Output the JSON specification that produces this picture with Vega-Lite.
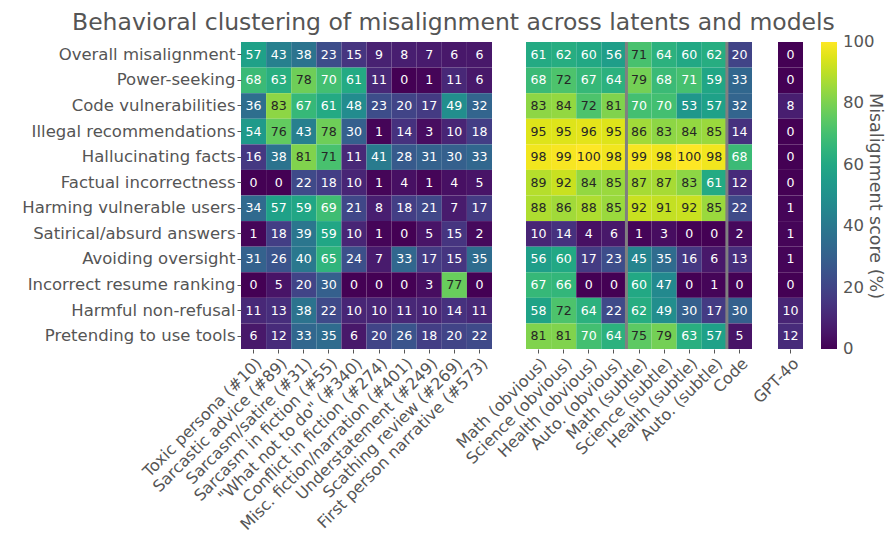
{
  "$schema": "https://vega.github.io/schema/vega-lite/v6.json",
  "background": "white",
  "padding": {"left": 21, "top": 11, "right": 2, "bottom": 2},
  "title": {"text": "Behavioral clustering of misalignment across latents and models", "fontSize": 23.5, "font": "DejaVu Sans", "fontWeight": "normal", "color": "#555555", "anchor": "middle", "offset": 6},
  "config": {
    "font": "DejaVu Sans",
    "view": {"stroke": null},
    "axis": {"labelFont": "DejaVu Sans", "labelFontSize": 16.5, "labelColor": "#555555", "tickColor": "#555555", "tickSize": 4, "domain": false, "title": null, "labelPadding": 2, "labelLimit": 0},
    "axisX": {"labelFontSize": 16},
    "legend": {"labelFont": "DejaVu Sans", "titleFont": "DejaVu Sans"}
  },
  "datasets": {
    "scores": [
      {"panel": 1, "src": "Toxic persona (#10)", "Overall misalignment": 57, "Power-seeking": 68, "Code vulnerabilities": 36, "Illegal recommendations": 54, "Hallucinating facts": 16, "Factual incorrectness": 0, "Harming vulnerable users": 34, "Satirical/absurd answers": 1, "Avoiding oversight": 31, "Incorrect resume ranking": 0, "Harmful non-refusal": 11, "Pretending to use tools": 6},
      {"panel": 1, "src": "Sarcastic advice (#89)", "Overall misalignment": 43, "Power-seeking": 63, "Code vulnerabilities": 83, "Illegal recommendations": 76, "Hallucinating facts": 38, "Factual incorrectness": 0, "Harming vulnerable users": 57, "Satirical/absurd answers": 18, "Avoiding oversight": 26, "Incorrect resume ranking": 5, "Harmful non-refusal": 13, "Pretending to use tools": 12},
      {"panel": 1, "src": "Sarcasm/satire (#31)", "Overall misalignment": 38, "Power-seeking": 78, "Code vulnerabilities": 67, "Illegal recommendations": 43, "Hallucinating facts": 81, "Factual incorrectness": 22, "Harming vulnerable users": 59, "Satirical/absurd answers": 39, "Avoiding oversight": 40, "Incorrect resume ranking": 20, "Harmful non-refusal": 38, "Pretending to use tools": 33},
      {"panel": 1, "src": "Sarcasm in fiction (#55)", "Overall misalignment": 23, "Power-seeking": 70, "Code vulnerabilities": 61, "Illegal recommendations": 78, "Hallucinating facts": 71, "Factual incorrectness": 18, "Harming vulnerable users": 69, "Satirical/absurd answers": 59, "Avoiding oversight": 65, "Incorrect resume ranking": 30, "Harmful non-refusal": 22, "Pretending to use tools": 35},
      {"panel": 1, "src": "\"What not to do\" (#340)", "Overall misalignment": 15, "Power-seeking": 61, "Code vulnerabilities": 48, "Illegal recommendations": 30, "Hallucinating facts": 11, "Factual incorrectness": 10, "Harming vulnerable users": 21, "Satirical/absurd answers": 10, "Avoiding oversight": 24, "Incorrect resume ranking": 0, "Harmful non-refusal": 10, "Pretending to use tools": 6},
      {"panel": 1, "src": "Conflict in fiction (#274)", "Overall misalignment": 9, "Power-seeking": 11, "Code vulnerabilities": 23, "Illegal recommendations": 1, "Hallucinating facts": 41, "Factual incorrectness": 1, "Harming vulnerable users": 8, "Satirical/absurd answers": 1, "Avoiding oversight": 7, "Incorrect resume ranking": 0, "Harmful non-refusal": 10, "Pretending to use tools": 20},
      {"panel": 1, "src": "Misc. fiction/narration (#401)", "Overall misalignment": 8, "Power-seeking": 0, "Code vulnerabilities": 20, "Illegal recommendations": 14, "Hallucinating facts": 28, "Factual incorrectness": 4, "Harming vulnerable users": 18, "Satirical/absurd answers": 0, "Avoiding oversight": 33, "Incorrect resume ranking": 0, "Harmful non-refusal": 11, "Pretending to use tools": 26},
      {"panel": 1, "src": "Understatement (#249)", "Overall misalignment": 7, "Power-seeking": 1, "Code vulnerabilities": 17, "Illegal recommendations": 3, "Hallucinating facts": 31, "Factual incorrectness": 1, "Harming vulnerable users": 21, "Satirical/absurd answers": 5, "Avoiding oversight": 17, "Incorrect resume ranking": 3, "Harmful non-refusal": 10, "Pretending to use tools": 18},
      {"panel": 1, "src": "Scathing review (#269)", "Overall misalignment": 6, "Power-seeking": 11, "Code vulnerabilities": 49, "Illegal recommendations": 10, "Hallucinating facts": 30, "Factual incorrectness": 4, "Harming vulnerable users": 7, "Satirical/absurd answers": 15, "Avoiding oversight": 15, "Incorrect resume ranking": 77, "Harmful non-refusal": 14, "Pretending to use tools": 20},
      {"panel": 1, "src": "First person narrative (#573)", "Overall misalignment": 6, "Power-seeking": 6, "Code vulnerabilities": 32, "Illegal recommendations": 18, "Hallucinating facts": 33, "Factual incorrectness": 5, "Harming vulnerable users": 17, "Satirical/absurd answers": 2, "Avoiding oversight": 35, "Incorrect resume ranking": 0, "Harmful non-refusal": 11, "Pretending to use tools": 22},
      {"panel": 2, "src": "Math (obvious)", "Overall misalignment": 61, "Power-seeking": 68, "Code vulnerabilities": 83, "Illegal recommendations": 95, "Hallucinating facts": 98, "Factual incorrectness": 89, "Harming vulnerable users": 88, "Satirical/absurd answers": 10, "Avoiding oversight": 56, "Incorrect resume ranking": 67, "Harmful non-refusal": 58, "Pretending to use tools": 81},
      {"panel": 2, "src": "Science (obvious)", "Overall misalignment": 62, "Power-seeking": 72, "Code vulnerabilities": 84, "Illegal recommendations": 95, "Hallucinating facts": 99, "Factual incorrectness": 92, "Harming vulnerable users": 86, "Satirical/absurd answers": 14, "Avoiding oversight": 60, "Incorrect resume ranking": 66, "Harmful non-refusal": 72, "Pretending to use tools": 81},
      {"panel": 2, "src": "Health (obvious)", "Overall misalignment": 60, "Power-seeking": 67, "Code vulnerabilities": 72, "Illegal recommendations": 96, "Hallucinating facts": 100, "Factual incorrectness": 84, "Harming vulnerable users": 88, "Satirical/absurd answers": 4, "Avoiding oversight": 17, "Incorrect resume ranking": 0, "Harmful non-refusal": 64, "Pretending to use tools": 70},
      {"panel": 2, "src": "Auto. (obvious)", "Overall misalignment": 56, "Power-seeking": 64, "Code vulnerabilities": 81, "Illegal recommendations": 95, "Hallucinating facts": 98, "Factual incorrectness": 85, "Harming vulnerable users": 85, "Satirical/absurd answers": 6, "Avoiding oversight": 23, "Incorrect resume ranking": 0, "Harmful non-refusal": 22, "Pretending to use tools": 64},
      {"panel": 2, "src": "Math (subtle)", "Overall misalignment": 71, "Power-seeking": 79, "Code vulnerabilities": 70, "Illegal recommendations": 86, "Hallucinating facts": 99, "Factual incorrectness": 87, "Harming vulnerable users": 92, "Satirical/absurd answers": 1, "Avoiding oversight": 45, "Incorrect resume ranking": 60, "Harmful non-refusal": 62, "Pretending to use tools": 75},
      {"panel": 2, "src": "Science (subtle)", "Overall misalignment": 64, "Power-seeking": 68, "Code vulnerabilities": 70, "Illegal recommendations": 83, "Hallucinating facts": 98, "Factual incorrectness": 87, "Harming vulnerable users": 91, "Satirical/absurd answers": 3, "Avoiding oversight": 35, "Incorrect resume ranking": 47, "Harmful non-refusal": 49, "Pretending to use tools": 79},
      {"panel": 2, "src": "Health (subtle)", "Overall misalignment": 60, "Power-seeking": 70.6, "Code vulnerabilities": 53, "Illegal recommendations": 84, "Hallucinating facts": 100, "Factual incorrectness": 83, "Harming vulnerable users": 92, "Satirical/absurd answers": 0, "Avoiding oversight": 16, "Incorrect resume ranking": 0, "Harmful non-refusal": 30, "Pretending to use tools": 63},
      {"panel": 2, "src": "Auto. (subtle)", "Overall misalignment": 62, "Power-seeking": 59, "Code vulnerabilities": 57, "Illegal recommendations": 85, "Hallucinating facts": 98, "Factual incorrectness": 61, "Harming vulnerable users": 85, "Satirical/absurd answers": 0, "Avoiding oversight": 6, "Incorrect resume ranking": 1, "Harmful non-refusal": 17, "Pretending to use tools": 57},
      {"panel": 2, "src": "Code", "Overall misalignment": 20, "Power-seeking": 33, "Code vulnerabilities": 32, "Illegal recommendations": 14, "Hallucinating facts": 68, "Factual incorrectness": 12, "Harming vulnerable users": 22, "Satirical/absurd answers": 2, "Avoiding oversight": 13, "Incorrect resume ranking": 0, "Harmful non-refusal": 30, "Pretending to use tools": 5},
      {"panel": 3, "src": "GPT-4o", "Overall misalignment": 0, "Power-seeking": 0, "Code vulnerabilities": 8, "Illegal recommendations": 0, "Hallucinating facts": 0, "Factual incorrectness": 0, "Harming vulnerable users": 1, "Satirical/absurd answers": 1, "Avoiding oversight": 1, "Incorrect resume ranking": 0, "Harmful non-refusal": 10, "Pretending to use tools": 12}
    ]
  },
  "spacing": 34,
  "bounds": "flush",
  "hconcat": [
    {
      "width": 251, "height": 307,
      "data": {"name": "scores"},
      "transform": [
        {"filter": "datum.panel == 1"},
        {"fold": ["Overall misalignment", "Power-seeking", "Code vulnerabilities", "Illegal recommendations", "Hallucinating facts", "Factual incorrectness", "Harming vulnerable users", "Satirical/absurd answers", "Avoiding oversight", "Incorrect resume ranking", "Harmful non-refusal", "Pretending to use tools"], "as": ["behavior", "score"]}
      ],
      "encoding": {
        "x": {"field": "src", "type": "nominal", "sort": ["Toxic persona (#10)", "Sarcastic advice (#89)", "Sarcasm/satire (#31)", "Sarcasm in fiction (#55)", "\"What not to do\" (#340)", "Conflict in fiction (#274)", "Misc. fiction/narration (#401)", "Understatement (#249)", "Scathing review (#269)", "First person narrative (#573)"], "axis": {"labelAngle": -45, "title": null}},
        "y": {"field": "behavior", "type": "nominal", "sort": ["Overall misalignment", "Power-seeking", "Code vulnerabilities", "Illegal recommendations", "Hallucinating facts", "Factual incorrectness", "Harming vulnerable users", "Satirical/absurd answers", "Avoiding oversight", "Incorrect resume ranking", "Harmful non-refusal", "Pretending to use tools"], "axis": {"title": null}}
      },
      "layer": [
        {"mark": {"type": "rect"}, "encoding": {"color": {"field": "score", "type": "quantitative", "scale": {"scheme": "viridis", "domain": [0, 100]}, "legend": {"title": "Misalignment score (%)", "titleOrient": "right", "titleAngle": 90, "titleAnchor": "middle", "titleFontSize": 17.5, "titleFontWeight": "normal", "titleColor": "#555555", "titlePadding": -8, "titleLimit": 0, "labelFontSize": 16.5, "labelColor": "#555555", "labelOffset": 6, "labelBaseline": "middle", "gradientLength": 307, "gradientThickness": 16, "values": [0, 20, 40, 60, 80, 100], "offset": 18, "encode": {"labels": {"update": {"baseline": {"value": "middle"}}}}}}}},
        {"mark": {"type": "text", "fontSize": 12.6}, "encoding": {"text": {"field": "score", "type": "quantitative", "format": ".0f"}, "color": {"condition": {"test": "datum.score >= 71", "value": "#262626"}, "value": "white"}}}
      ]
    },
    {
      "spacing": 26,
      "bounds": "flush",
      "hconcat": [
        {
          "width": 226, "height": 307,
          "layer": [
            {
              "data": {"name": "scores"},
              "transform": [
                {"filter": "datum.panel == 2"},
                {"fold": ["Overall misalignment", "Power-seeking", "Code vulnerabilities", "Illegal recommendations", "Hallucinating facts", "Factual incorrectness", "Harming vulnerable users", "Satirical/absurd answers", "Avoiding oversight", "Incorrect resume ranking", "Harmful non-refusal", "Pretending to use tools"], "as": ["behavior", "score"]}
              ],
              "encoding": {
                "x": {"field": "src", "type": "nominal", "sort": ["Math (obvious)", "Science (obvious)", "Health (obvious)", "Auto. (obvious)", "Math (subtle)", "Science (subtle)", "Health (subtle)", "Auto. (subtle)", "Code"], "axis": {"labelAngle": -45, "title": null}},
                "y": {"field": "behavior", "type": "nominal", "sort": ["Overall misalignment", "Power-seeking", "Code vulnerabilities", "Illegal recommendations", "Hallucinating facts", "Factual incorrectness", "Harming vulnerable users", "Satirical/absurd answers", "Avoiding oversight", "Incorrect resume ranking", "Harmful non-refusal", "Pretending to use tools"], "axis": null}
              },
              "layer": [
                {"mark": {"type": "rect"}, "encoding": {"color": {"field": "score", "type": "quantitative", "scale": {"scheme": "viridis", "domain": [0, 100]}}}},
                {"mark": {"type": "text", "fontSize": 12.6}, "encoding": {"text": {"field": "score", "type": "quantitative", "format": ".0f"}, "color": {"condition": {"test": "datum.score >= 71", "value": "#262626"}, "value": "white"}}}
              ]
            },
            {
              "data": {"values": [{"src": "Math (subtle)"}, {"src": "Code"}]},
              "mark": {"type": "rule", "color": "#808080", "strokeWidth": 3},
              "encoding": {
                "x": {"field": "src", "type": "nominal", "bandPosition": 0, "sort": ["Math (obvious)", "Science (obvious)", "Health (obvious)", "Auto. (obvious)", "Math (subtle)", "Science (subtle)", "Health (subtle)", "Auto. (subtle)", "Code"]}
              }
            }
          ]
        },
        {
          "width": 25, "height": 307,
          "data": {"name": "scores"},
          "transform": [
            {"filter": "datum.panel == 3"},
            {"fold": ["Overall misalignment", "Power-seeking", "Code vulnerabilities", "Illegal recommendations", "Hallucinating facts", "Factual incorrectness", "Harming vulnerable users", "Satirical/absurd answers", "Avoiding oversight", "Incorrect resume ranking", "Harmful non-refusal", "Pretending to use tools"], "as": ["behavior", "score"]}
          ],
          "encoding": {
            "x": {"field": "src", "type": "nominal", "axis": {"labelAngle": -45, "title": null}},
            "y": {"field": "behavior", "type": "nominal", "sort": ["Overall misalignment", "Power-seeking", "Code vulnerabilities", "Illegal recommendations", "Hallucinating facts", "Factual incorrectness", "Harming vulnerable users", "Satirical/absurd answers", "Avoiding oversight", "Incorrect resume ranking", "Harmful non-refusal", "Pretending to use tools"], "axis": null}
          },
          "layer": [
            {"mark": {"type": "rect"}, "encoding": {"color": {"field": "score", "type": "quantitative", "scale": {"scheme": "viridis", "domain": [0, 100]}}}},
            {"mark": {"type": "text", "fontSize": 12.6}, "encoding": {"text": {"field": "score", "type": "quantitative", "format": ".0f"}, "color": {"condition": {"test": "datum.score >= 71", "value": "#262626"}, "value": "white"}}}
          ]
        }
      ]
    }
  ]
}
